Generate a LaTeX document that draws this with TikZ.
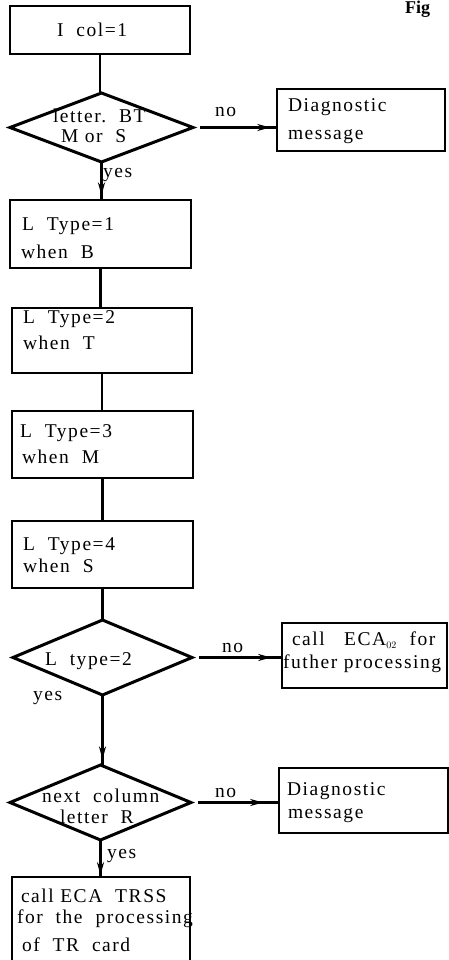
\documentclass[tikz,border=0pt]{standalone}
\usepackage{fontspec}
\setmainfont{Liberation Serif}
\newfontfamily\scanfont{Liberation Serif}[LetterSpace=8]
\usetikzlibrary{shapes.geometric,arrows.meta,decorations.markings,calc}
\begin{document}
\begin{tikzpicture}[x=1pt,y=-1pt,
  every node/.style={inner sep=0pt,outer sep=0pt},
  procbox/.style={draw,line width=2.8pt,rectangle,minimum width=#1},
  decbox/.style={draw,line width=3pt,diamond,shape aspect=2.6},
  txt/.style={anchor=base west,font=\scanfont\fontsize{19.5}{22}\selectfont},
  conn/.style={line width=2.6pt},
  arrowat/.style={postaction={decorate},decoration={markings,
    mark=at position #1 with {\arrow{Stealth[length=13pt,width=7pt]}}}}
]
\useasboundingbox (0,0) rectangle (448,960);

% main column
\node[procbox=180,minimum height=48] (b0) at (100,30) {};
\node[decbox,minimum width=183,minimum height=69] (d1) at (101.5,127.5) {};
\node[procbox=181,minimum height=68] (b1) at (100.5,234) {};
\node[procbox=180,minimum height=65] (b2) at (102,340.5) {};
\node[procbox=181,minimum height=67] (b3) at (102.5,444.5) {};
\node[procbox=181,minimum height=67] (b4) at (102.5,554.5) {};
\node[decbox,minimum width=179,minimum height=75] (d2) at (102.5,657.5) {};
\node[decbox,minimum width=181,minimum height=75] (d3) at (100.5,802.5) {};
\node[procbox=178,minimum height=98] (fb) at (101,926) {};

% right column
\node[procbox=168,minimum height=62] (dg1) at (361,120) {};
\node[procbox=165,minimum height=65] (e1) at (364.5,655.5) {};
\node[procbox=169,minimum height=65] (dg2) at (363.5,800.5) {};

% texts
\node[anchor=base west,font=\bfseries\fontsize{18}{20}\selectfont] (fig) at (405,14) {Fig};
\node[txt] (t0) at (57,37) {I\ \ col=1};
\node[txt] (t1a) at (53,123) {letter.\ \ BT};
\node[txt] (t1b) at (61,143) {M or\ \ S};
\node[txt] (tg1a) at (288,112) {Diagnostic};
\node[txt] (tg1b) at (288,140) {message};
\node[txt] (no1) at (215,117) {no};
\node[txt] (yes1) at (103,178) {yes};
\node[txt] (tb1a) at (22,230) {L\ \ Type=1};
\node[txt] (tb1b) at (21,258) {when\ \ B};
\node[txt] (tb2a) at (23,323) {L\ \ Type=2};
\node[txt] (tb2b) at (23,349) {when\ \ T};
\node[txt] (tb3a) at (20,437) {L\ \ Type=3};
\node[txt] (tb3b) at (22,463) {when\ \ M};
\node[txt] (tb4a) at (23,550) {L\ \ Type=4};
\node[txt] (tb4b) at (23,572) {when\ \ S};
\node[txt] (td2) at (45,665) {L\ \ type=2};
\node[txt] (no2) at (222,652) {no};
\node[txt] (te1a) at (292,645) {call\ \ \ ECA$_{\scriptscriptstyle 02}$\ \ for};
\node[txt] (te1b) at (283,668) {futher processing};
\node[txt] (yes2) at (33,700) {yes};
\node[txt] (td3a) at (42,802) {next\ \ column};
\node[txt] (td3b) at (60,823) {letter\ \ R};
\node[txt] (no3) at (215,797) {no};
\node[txt] (tg2a) at (287,795) {Diagnostic};
\node[txt] (tg2b) at (288,818) {message};
\node[txt] (yes3) at (107,858) {yes};
\node[txt] (tfa) at (21,902) {call\ ECA\ \ TRSS};
\node[txt] (tfb) at (17,923) {for\ \ the\ \ processing};
\node[txt] (tfc) at (22,951) {of\ \ TR\ \ card};

% connectors
\draw[conn] (b0.south) -- (b0.south |- d1.north);
\draw[conn,arrowat=0.88] (d1.south) -- (d1.south |- b1.north);
\draw[conn] (b1.south) -- (b1.south |- b2.north);
\draw[conn] (b2.south) -- (b2.south |- b3.north);
\draw[conn] (b3.south) -- (b3.south |- b4.north);
\draw[conn] (b4.south) -- (b4.south |- d2.north);
\draw[conn,arrowat=0.92] (d2.south) -- (d2.south |- d3.north);
\draw[conn,arrowat=0.95] (d3.south) -- (d3.south |- fb.north);
\draw[conn,arrowat=0.92,shorten <=7pt] (d1.east) -- (d1.east -| dg1.west);
\draw[conn,arrowat=0.88,shorten <=7pt] (d2.east) -- (d2.east -| e1.west);
\draw[conn,arrowat=0.82,shorten <=7pt] (d3.east) -- (d3.east -| dg2.west);
\end{tikzpicture}
\end{document}
